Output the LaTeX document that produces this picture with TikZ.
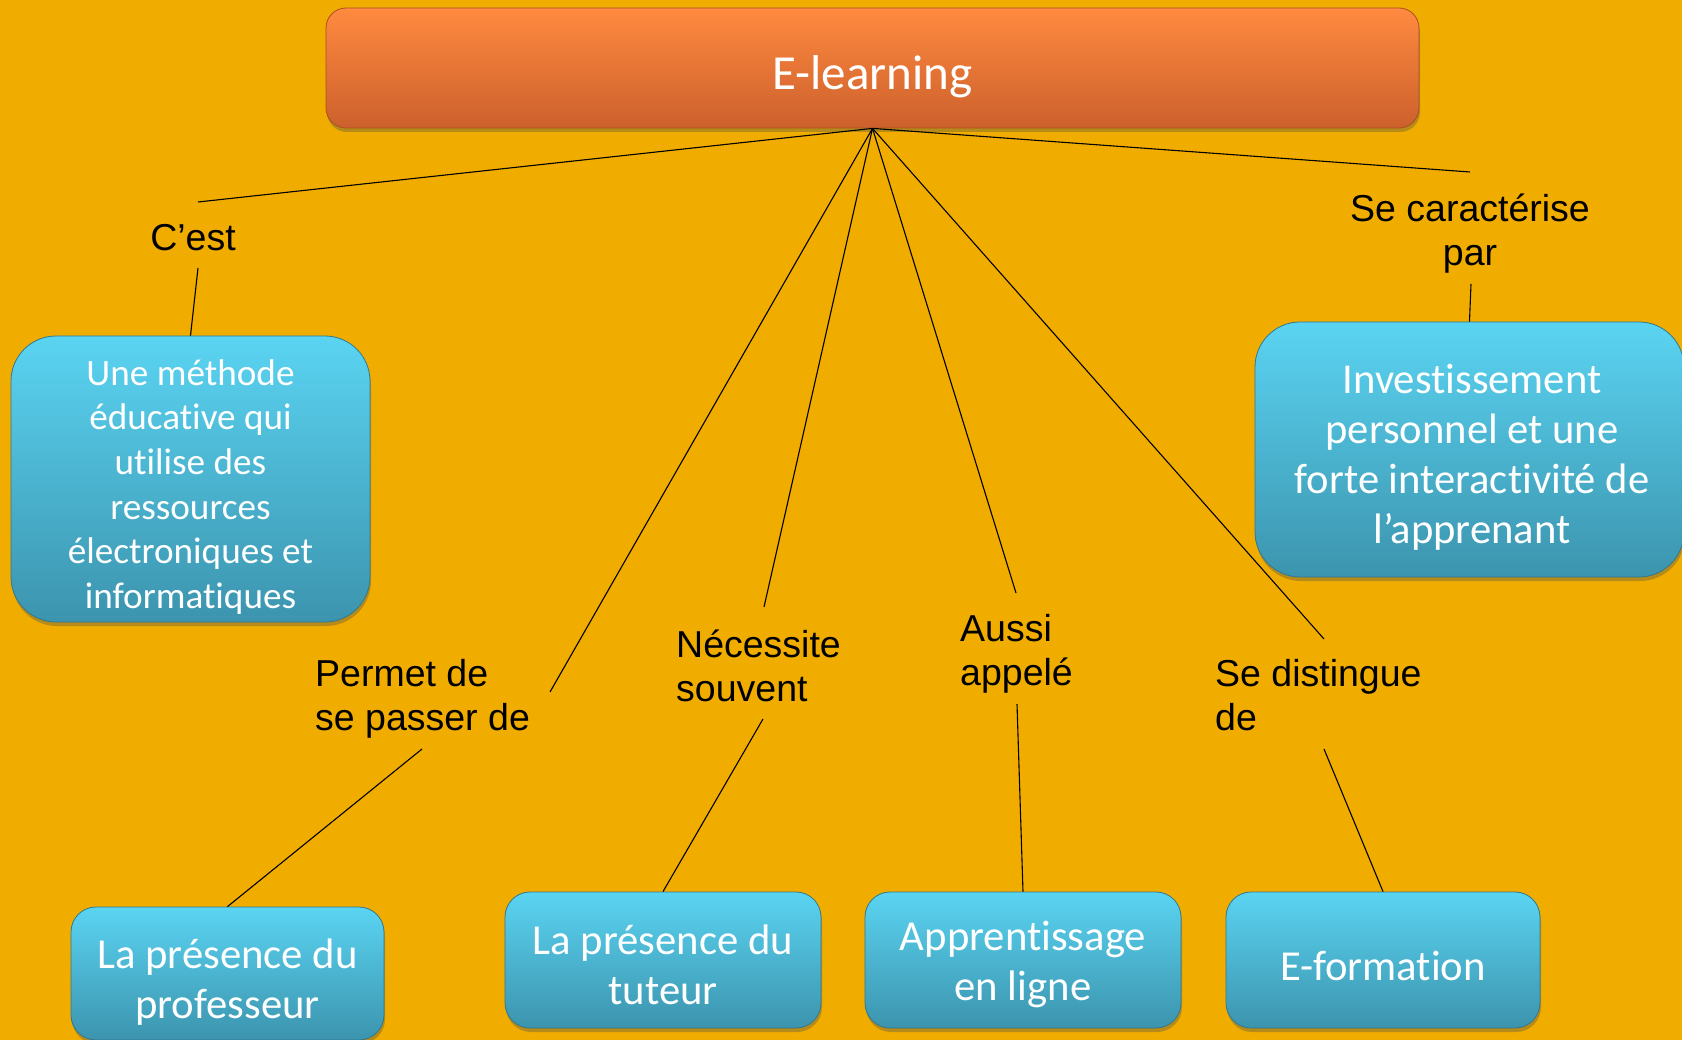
\documentclass[tikz,border=0pt]{standalone}
\usepackage{fontspec}
\setmainfont{Liberation Sans}
\newfontfamily\boxfont[Ligatures={NoCommon,TeX}]{Carlito}
\usetikzlibrary{shadows}
\definecolor{bgc}{RGB}{240,173,0}
\definecolor{otop}{RGB}{255,138,64}
\definecolor{obot}{RGB}{204,96,44}
\definecolor{btop}{RGB}{90,212,242}
\definecolor{bbot}{RGB}{60,148,174}
\definecolor{bedge}{RGB}{50,120,140}
\definecolor{oedge}{RGB}{170,80,30}
\tikzset{
  bluebox/.style={rectangle, rounded corners=#1, top color=btop, bottom color=bbot,
    draw=bedge, line width=0.8pt, inner sep=0pt,
    drop shadow={shadow xshift=1pt, shadow yshift=-4pt, opacity=0.35, fill=black!70}},
  bluebox/.default=25pt,
  boxtext/.style={text=white, align=center, inner sep=0pt},
  lbl/.style={text=black, inner sep=0pt, font=\fontsize{37.5}{44}\selectfont},
  conn/.style={draw=black, line width=1.1pt}
}
\begin{document}
\begin{tikzpicture}[x=1pt,y=-1pt]
\fill[bgc] (0,0) rectangle (1682,1040);
\useasboundingbox (0,0) rectangle (1682,1040);
\begin{scope}
\clip (0,0) rectangle (1682,1040);
% top box
\node[rectangle, rounded corners=20pt, top color=otop, bottom color=obot, draw=oedge, line width=0.8pt,
  minimum width=1093pt, minimum height=120pt, inner sep=0pt,
  drop shadow={shadow xshift=1pt, shadow yshift=-4pt, opacity=0.35, fill=black!70}] (top) at (872.5,68) {};
\node[boxtext, font=\boxfont\fontsize{49}{58}\selectfont] (topt) at (872.5,77) {E-learning};
% boxes
\node[bluebox=45pt, minimum width=359pt, minimum height=286pt] (def) at (190.5,479) {};
\node[boxtext, font=\boxfont\fontsize{37.2}{44.7}\selectfont] (deft) at (190.5,487)
  {Une méthode\\éducative qui\\utilise des\\ressources\\électroniques et\\informatiques};
\node[bluebox=45pt, minimum width=429pt, minimum height=255pt] (car) at (1469.5,449.5) {};
\node[boxtext, font=\boxfont\fontsize{42.6}{50}\selectfont] (cart) at (1472,457)
  {Investissement\\personnel et une\\forte interactivité de\\l’apprenant};
\node[bluebox, minimum width=313pt, minimum height=133pt] (prof) at (227.5,973.5) {};
\node[boxtext, font=\boxfont\fontsize{42.7}{50.5}\selectfont] (proft) at (227.5,982)
  {La présence du\\professeur};
\node[bluebox, minimum width=316pt, minimum height=136pt] (tut) at (663,960) {};
\node[boxtext, font=\boxfont\fontsize{42.7}{50}\selectfont] (tutt) at (663,964.5)
  {La présence du\\tuteur};
\node[bluebox, minimum width=316pt, minimum height=136pt] (app) at (1023,960) {};
\node[boxtext, font=\boxfont\fontsize{42.7}{50}\selectfont] (appt) at (1023,964.5)
  {Apprentissage\\en ligne};
\node[bluebox, minimum width=314pt, minimum height=136pt] (efo) at (1383,960) {};
\node[boxtext, font=\boxfont\fontsize{42.7}{50}\selectfont] (efot) at (1383,965.5)
  {E-formation};
% labels
\node[lbl] (cest) at (193,238) {C’est};
\node[lbl, align=center] (secar) at (1470,233.5) {Se caractérise\\par};
\node[lbl, align=left, anchor=west] (permet) at (315,698.5) {Permet de\\se passer de};
\node[lbl, align=left, anchor=west] (nec) at (676,665.5) {Nécessite\\souvent};
\node[lbl, align=left, anchor=west] (aussi) at (960,654) {Aussi\\appelé};
\node[lbl, align=left, anchor=west] (sedis) at (1215,695) {Se distingue\\de};
% connector points
\coordinate (cestA) at (198,202);   \coordinate (cestB) at (198,268);
\coordinate (secarA) at (1470,172); \coordinate (secarB) at (1471,284);
\coordinate (permetA) at (550,692); \coordinate (permetB) at (422,749);
\coordinate (necA) at (764,607);    \coordinate (necB) at (763,719);
\coordinate (aussiA) at (1016,593); \coordinate (aussiB) at (1017,704);
\coordinate (sedisA) at (1324,639); \coordinate (sedisB) at (1324,749);
% connectors
\draw[conn] (top.south) -- (cestA);
\draw[conn] (cestB) -- (def.north);
\draw[conn] (top.south) -- (secarA);
\draw[conn] (secarB) -- (car.north);
\draw[conn] (top.south) -- (permetA);
\draw[conn] (permetB) -- (prof.north);
\draw[conn] (top.south) -- (necA);
\draw[conn] (necB) -- (tut.north);
\draw[conn] (top.south) -- (aussiA);
\draw[conn] (aussiB) -- (app.north);
\draw[conn] (top.south) -- (sedisA);
\draw[conn] (sedisB) -- (efo.north);
\end{scope}
\end{tikzpicture}
\end{document}
